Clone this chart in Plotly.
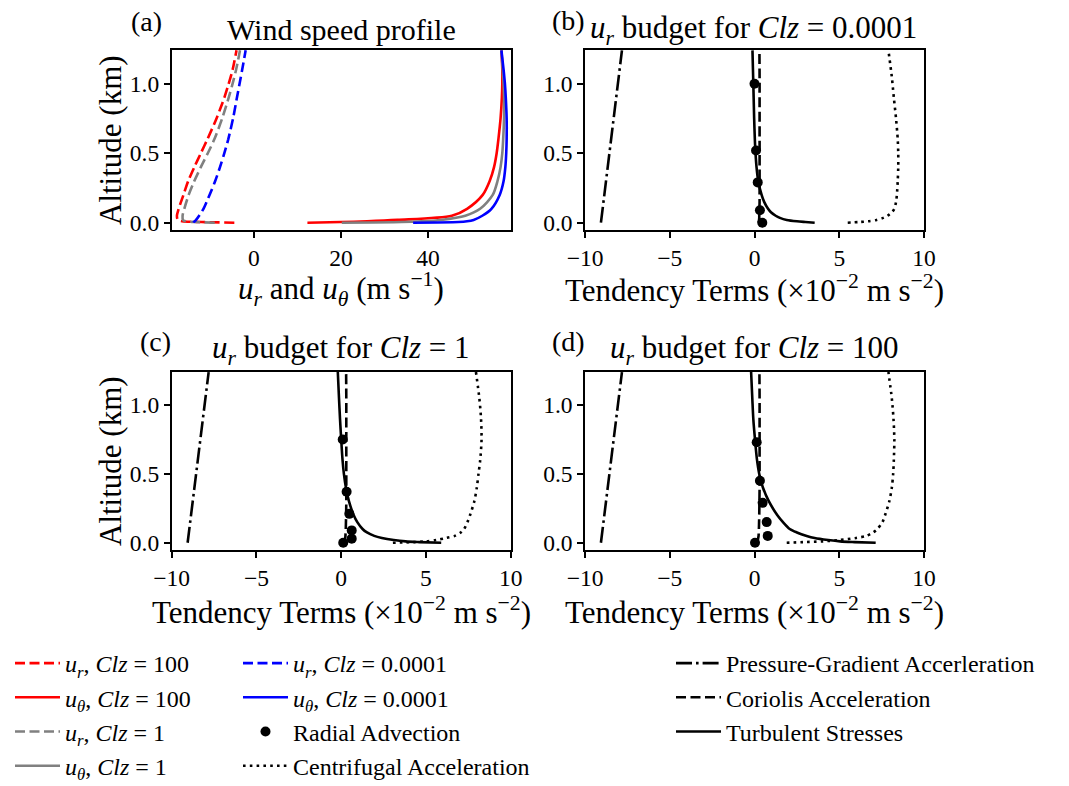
import plotly.graph_objects as go

# ---------------- data ----------------
# panel (a): wind profiles
z_a = [0, 0.005, 0.01, 0.02, 0.05, 0.1, 0.2, 0.3, 0.4, 0.5, 0.6, 0.75, 0.9, 1.0, 1.1, 1.24]
ur_clz100 = [-4.5, -12.0, -16.5, -17.5, -17.7, -17.3, -16.2, -15.1, -13.7, -12.2, -10.7, -8.6, -6.8, -5.8, -4.9, -4.0]
ut_clz100 = [12.3, 20.0, 26.0, 33.0, 45.5, 49.0, 52.6, 54.2, 55.2, 55.8, 56.2, 56.7, 57.0, 57.1, 57.1, 56.9]
ur_clz1 = [-9.0, -13.5, -15.6, -16.3, -16.4, -16.0, -15.0, -13.7, -12.2, -10.6, -9.1, -7.3, -5.8, -4.9, -4.1, -3.2]
ut_clz1 = [20.2, 34.0, 38.5, 43.0, 48.6, 52.0, 54.9, 56.0, 56.7, 57.1, 57.3, 57.5, 57.5, 57.4, 57.2, 56.9]
ur_clz0001 = [-13.9, -13.8, -13.6, -13.3, -12.6, -11.6, -10.2, -8.9, -7.8, -6.8, -5.9, -4.8, -3.9, -3.3, -2.7, -1.9]
ut_clz0001 = [36.6, 47.0, 49.0, 50.5, 52.5, 54.6, 56.5, 57.4, 57.8, 58.0, 58.1, 58.1, 57.9, 57.7, 57.4, 56.9]

# budget panels (b)-(d)
z_b = [0, 0.005, 0.01, 0.02, 0.035, 0.05, 0.075, 0.1, 0.15, 0.2, 0.3, 0.4, 0.5, 0.6, 0.75, 0.9, 1.05, 1.24]
pgf_z = [0, 1.24]
pgf_b = [-9.06, -7.82]
pgf_c = [-9.06, -7.82]
pgf_d = [-9.06, -7.82]
cor_b = [0.19, 0.25, 0.26, 0.27, 0.28, 0.28, 0.29, 0.29, 0.30, 0.30, 0.30, 0.30, 0.30, 0.30, 0.30, 0.30, 0.30, 0.29]
cor_c = [0.12, 0.18, 0.20, 0.22, 0.24, 0.25, 0.26, 0.27, 0.28, 0.29, 0.30, 0.30, 0.30, 0.30, 0.30, 0.30, 0.30, 0.29]
cor_d = [0.08, 0.13, 0.16, 0.19, 0.22, 0.24, 0.25, 0.26, 0.27, 0.28, 0.29, 0.30, 0.30, 0.30, 0.30, 0.30, 0.30, 0.29]
tur_b = [3.55, 3.0, 2.5, 1.9, 1.5, 1.25, 0.97, 0.8, 0.57, 0.42, 0.22, 0.12, 0.06, 0.02, -0.02, -0.05, -0.08, -0.12]
tur_c = [5.9, 4.6, 3.8, 3.1, 2.4, 1.95, 1.52, 1.26, 0.95, 0.74, 0.46, 0.28, 0.16, 0.08, 0.0, -0.07, -0.13, -0.2]
tur_d = [7.15, 5.9, 5.05, 4.35, 3.55, 3.08, 2.5, 2.08, 1.68, 1.35, 0.85, 0.5, 0.28, 0.15, 0.03, -0.07, -0.13, -0.2]
cen_b = [5.5, 6.2, 6.7, 7.2, 7.6, 7.85, 8.1, 8.25, 8.35, 8.4, 8.45, 8.48, 8.48, 8.45, 8.35, 8.22, 8.1, 7.9]
cen_c = [3.05, 4.3, 5.0, 5.6, 6.2, 6.7, 7.05, 7.25, 7.45, 7.6, 7.85, 8.0, 8.1, 8.2, 8.28, 8.25, 8.15, 7.95]
cen_d = [1.9, 3.0, 4.0, 5.0, 6.0, 6.6, 7.0, 7.25, 7.55, 7.7, 7.95, 8.1, 8.18, 8.22, 8.25, 8.2, 8.1, 7.9]
adv_z_b = [0, 0.09, 0.29, 0.52, 1.0]
adv_b = [0.46, 0.32, 0.19, 0.09, 0.0]
adv_z_c = [0, 0.03, 0.09, 0.21, 0.37, 0.75]
adv_c = [0.12, 0.62, 0.62, 0.48, 0.32, 0.09]
adv_z_d = [0, 0.05, 0.15, 0.29, 0.45, 0.73]
adv_d = [0.03, 0.78, 0.72, 0.48, 0.32, 0.13]

# ---------------- figure ----------------
W, H = 1069, 786
FONT = "Liberation Serif"
LW = 2.6
DASH = "10px,4.5px"
DOT = "2.6px,4.2px"
DASHDOT = "16px,4px,2.6px,4px"
SMOOTH = 0.8

fig = go.Figure()

def px_x(p):
    return p / W

def px_y(p):
    return 1 - p / H

# axis domains (pixels)
boxes = {
    "a": (171.7, 511.0, 50.0, 230.0),
    "b": (585.0, 924.0, 50.0, 230.0),
    "c": (171.7, 510.7, 371.7, 550.0),
    "d": (585.0, 924.0, 371.7, 550.0),
}
axis_ids = {"a": ("x", "y"), "b": ("x2", "y2"), "c": ("x3", "y3"), "d": ("x4", "y4")}

ur_t = "<i>u</i><sub><i>r</i></sub>"
ut_t = "<i>u</i><sub><i>θ</i></sub>"

# panel (a)
profiles = [
    (ur_clz100, "red", DASH, f"{ur_t}, <i>Clz</i> = 100"),
    (ut_clz100, "red", None, f"{ut_t}, <i>Clz</i> = 100"),
    (ur_clz1, "gray", DASH, f"{ur_t}, <i>Clz</i> = 1"),
    (ut_clz1, "gray", None, f"{ut_t}, <i>Clz</i> = 1"),
    (ur_clz0001, "blue", DASH, f"{ur_t}, <i>Clz</i> = 0.0001"),
    (ut_clz0001, "blue", None, f"{ut_t}, <i>Clz</i> = 0.0001"),
]
for i, (vals, col, dash, name) in enumerate(profiles):
    fig.add_trace(go.Scatter(
        x=vals, y=z_a, mode="lines", name=name,
        line=dict(color=col, width=LW, dash=dash if dash else "solid",
                  shape="spline", smoothing=SMOOTH),
        xaxis="x", yaxis="y", legend="legend" if i < 4 else "legend2",
        showlegend=True,
    ))

budgets = {
    "b": (pgf_b, cor_b, tur_b, cen_b, adv_z_b, adv_b),
    "c": (pgf_c, cor_c, tur_c, cen_c, adv_z_c, adv_c),
    "d": (pgf_d, cor_d, tur_d, cen_d, adv_z_d, adv_d),
}
for key, (pgf, cor, tur, cen, az, adv) in budgets.items():
    xa, ya = axis_ids[key]
    show = key == "b"
    fig.add_trace(go.Scatter(x=adv, y=az, mode="markers", name="Radial Advection",
                             marker=dict(color="black", size=10),
                             xaxis=xa, yaxis=ya, legend="legend2", showlegend=show))
    fig.add_trace(go.Scatter(x=cen, y=z_b, mode="lines", name="Centrifugal Acceleration",
                             line=dict(color="black", width=LW, dash=DOT,
                                       shape="spline", smoothing=SMOOTH),
                             xaxis=xa, yaxis=ya, legend="legend2", showlegend=show))
    fig.add_trace(go.Scatter(x=pgf, y=pgf_z, mode="lines", name="Pressure-Gradient Accerleration",
                             line=dict(color="black", width=LW, dash=DASHDOT),
                             xaxis=xa, yaxis=ya, legend="legend3", showlegend=show))
    fig.add_trace(go.Scatter(x=cor, y=z_b, mode="lines", name="Coriolis Acceleration",
                             line=dict(color="black", width=LW, dash=DASH,
                                       shape="spline", smoothing=SMOOTH),
                             xaxis=xa, yaxis=ya, legend="legend3", showlegend=show))
    fig.add_trace(go.Scatter(x=tur, y=z_b, mode="lines", name="Turbulent Stresses",
                             line=dict(color="black", width=LW,
                                       shape="spline", smoothing=SMOOTH),
                             xaxis=xa, yaxis=ya, legend="legend3", showlegend=show))

tick_font = dict(family=FONT, size=23.5, color="black")
common = dict(showline=True, linecolor="black", linewidth=1.6, mirror=True,
              ticks="outside", ticklen=6, tickwidth=1.5, tickcolor="black",
              showgrid=False, zeroline=False, tickfont=tick_font, automargin=False)

layout_axes = {}
for key, (l, r, t, b) in boxes.items():
    xa, ya = axis_ids[key]
    xname = "xaxis" if xa == "x" else "xaxis" + xa[1:]
    yname = "yaxis" if ya == "y" else "yaxis" + ya[1:]
    if key == "a":
        xr = [-18.9, 59.1]
        xt = [0, 20, 40]
        xtt = ["0", "20", "40"]
    else:
        xr = [-10, 10]
        xt = [-10, -5, 0, 5, 10]
        xtt = ["−10", "−5", "0", "5", "10"]
    layout_axes[xname] = dict(domain=[px_x(l), px_x(r)], range=xr, tickvals=xt, ticktext=xtt,
                              anchor=ya, **common)
    layout_axes[yname] = dict(domain=[px_y(b), px_y(t)], range=[-0.0525, 1.2425],
                              tickvals=[0, 0.5, 1.0], ticktext=["0.0", "0.5", "1.0"],
                              anchor=xa, **common)

fig.update_layout(**layout_axes)

annots = []
def ann(text, x, y, angle=0, size=30):
    annots.append(dict(text=text, x=px_x(x), y=px_y(y), xref="paper", yref="paper",
                       showarrow=False, xanchor="center", yanchor="middle",
                       textangle=angle, font=dict(family=FONT, size=size, color="black")))

ann("(a)", 146, 22, size=28)
ann("Wind speed profile", 341.5, 30)
ann("(b)", 569, 20, size=28)
ann(f"{ur_t} budget for <i>Clz</i> = 0.0001", 753, 30, size=31)
ann("(c)", 155, 342, size=28)
ann(f"{ur_t} budget for <i>Clz</i> = 1", 341, 350, size=31)
ann("(d)", 569, 342, size=28)
ann(f"{ur_t} budget for <i>Clz</i> = 100", 754, 350, size=31)
ann("Altitude (km)", 110, 140, angle=-90, size=31)
ann("Altitude (km)", 110, 461, angle=-90, size=31)
ann(f"{ur_t} and {ut_t} (m s<sup>−1</sup>)", 341, 289, size=31)
ann("Tendency Terms (×10<sup>−2</sup> m s<sup>−2</sup>)", 754, 289, size=31)
ann("Tendency Terms (×10<sup>−2</sup> m s<sup>−2</sup>)", 341, 610, size=31)
ann("Tendency Terms (×10<sup>−2</sup> m s<sup>−2</sup>)", 754, 610, size=31)

leg_common = dict(font=dict(family=FONT, size=24, color="black"), bgcolor="rgba(0,0,0,0)",
                  borderwidth=0, itemwidth=45, xanchor="left", yanchor="top",
                  traceorder="normal", orientation="v",
                  xref="container", yref="container")

fig.update_layout(
    width=W, height=H,
    margin=dict(l=0, r=0, t=0, b=0, autoexpand=False),
    paper_bgcolor="white", plot_bgcolor="white",
    annotations=annots,
    legend=dict(x=px_x(10), y=px_y(641), **leg_common),
    legend2=dict(x=px_x(238), y=px_y(641), **leg_common),
    legend3=dict(x=px_x(671), y=px_y(641), **leg_common),
)

fig.write_html("out.html")
